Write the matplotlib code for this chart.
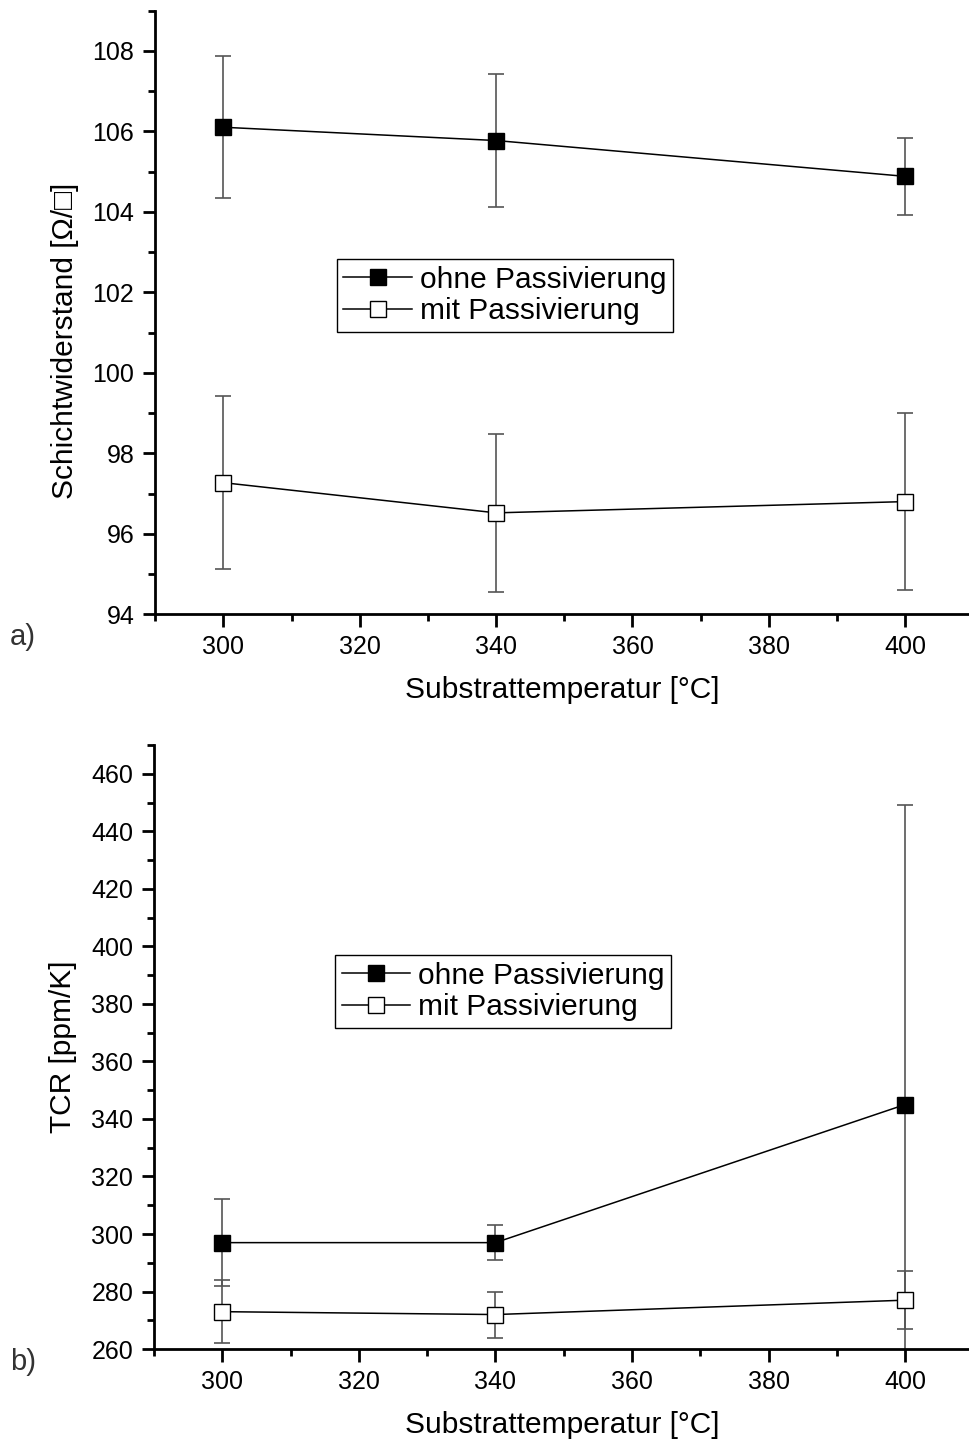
import numpy as np
import matplotlib
matplotlib.use('Agg')
import matplotlib.pyplot as plt
from matplotlib.ticker import MultipleLocator

plt.rcParams['font.family'] = ['Liberation Sans', 'DejaVu Sans']

temps = [300, 340, 400]

# Schichtwiderstand (Ohm/sq)
rs_ohne = [106.1, 105.77, 104.88]
rs_ohne_err = [1.76, 1.65, 0.96]
rs_mit = [97.27, 96.52, 96.8]
rs_mit_err = [2.15, 1.97, 2.2]

# TCR (ppm/K)
tcr_ohne = [297, 297, 345]
tcr_ohne_err = [15, 6, 104]
tcr_mit = [273, 272, 277]
tcr_mit_err = [11, 8, 10]

labels = ['ohne Passivierung', 'mit Passivierung']

fig = plt.figure(figsize=(9.7, 14.41), dpi=100)
ax1 = fig.add_axes([0.16, 0.5737, 0.84, 0.419])
ax2 = fig.add_axes([0.1588, 0.0638, 0.8412, 0.4192])


def draw(ax, ohne, ohne_err, mit, mit_err):
    for y, e, face, lab in [(ohne, ohne_err, 'black', labels[0]),
                            (mit, mit_err, 'white', labels[1])]:
        ax.errorbar(temps, y, yerr=e, fmt='none', ecolor='#555555',
                    elinewidth=1.2, capsize=6, capthick=1.2, zorder=2)
        ax.plot(temps, y, color='black', lw=1.1, marker='s', markersize=11,
                markerfacecolor=face, markeredgecolor='black',
                markeredgewidth=1, label=lab, zorder=3)
    for s in ['top', 'right']:
        ax.spines[s].set_visible(False)
    for s in ['left', 'bottom']:
        ax.spines[s].set_linewidth(2)
    ax.set_xlim(290, 409.5)
    ax.xaxis.set_major_locator(MultipleLocator(20))
    ax.xaxis.set_minor_locator(MultipleLocator(10))
    ax.tick_params(which='major', direction='out', length=9, width=2,
                   labelsize=18, pad=6)
    ax.tick_params(which='minor', direction='out', length=5, width=2)
    ax.set_xlabel('Substrattemperatur [°C]', fontsize=21.5, labelpad=12)


def legend(ax, anchor):
    leg = ax.legend(loc='upper left', bbox_to_anchor=anchor, fontsize=21.5,
                    frameon=True, fancybox=False, edgecolor='black',
                    framealpha=1, handlelength=2.3, borderpad=0.22,
                    labelspacing=0.12, handletextpad=0.25, borderaxespad=0)
    leg.get_frame().set_linewidth(1)


draw(ax1, rs_ohne, rs_ohne_err, rs_mit, rs_mit_err)
ax1.set_ylim(94, 109)
ax1.yaxis.set_major_locator(MultipleLocator(2))
ax1.yaxis.set_minor_locator(MultipleLocator(1))
ax1.set_xticks([300, 320, 340, 360, 380, 400])
ax1.set_ylabel('Schichtwiderstand [Ω/□]', fontsize=21.5)
ax1.yaxis.set_label_coords(-0.094, 0.453)
legend(ax1, (0.223, 0.588))

draw(ax2, tcr_ohne, tcr_ohne_err, tcr_mit, tcr_mit_err)
ax2.set_ylim(260, 470)
ax2.yaxis.set_major_locator(MultipleLocator(20))
ax2.yaxis.set_minor_locator(MultipleLocator(10))
ax2.set_xticks([300, 320, 340, 360, 380, 400])
ax2.set_ylabel('TCR [ppm/K]', fontsize=21.5)
ax2.yaxis.set_label_coords(-0.094, 0.5)
legend(ax2, (0.222, 0.652))

fig.text(0.01, 1 - 637 / 1441, 'a)', fontsize=21, va='center', color='#333333')
fig.text(0.01, 1 - 1362 / 1441, 'b)', fontsize=21, va='center', color='#333333')

fig.savefig('out.png', dpi=100)
